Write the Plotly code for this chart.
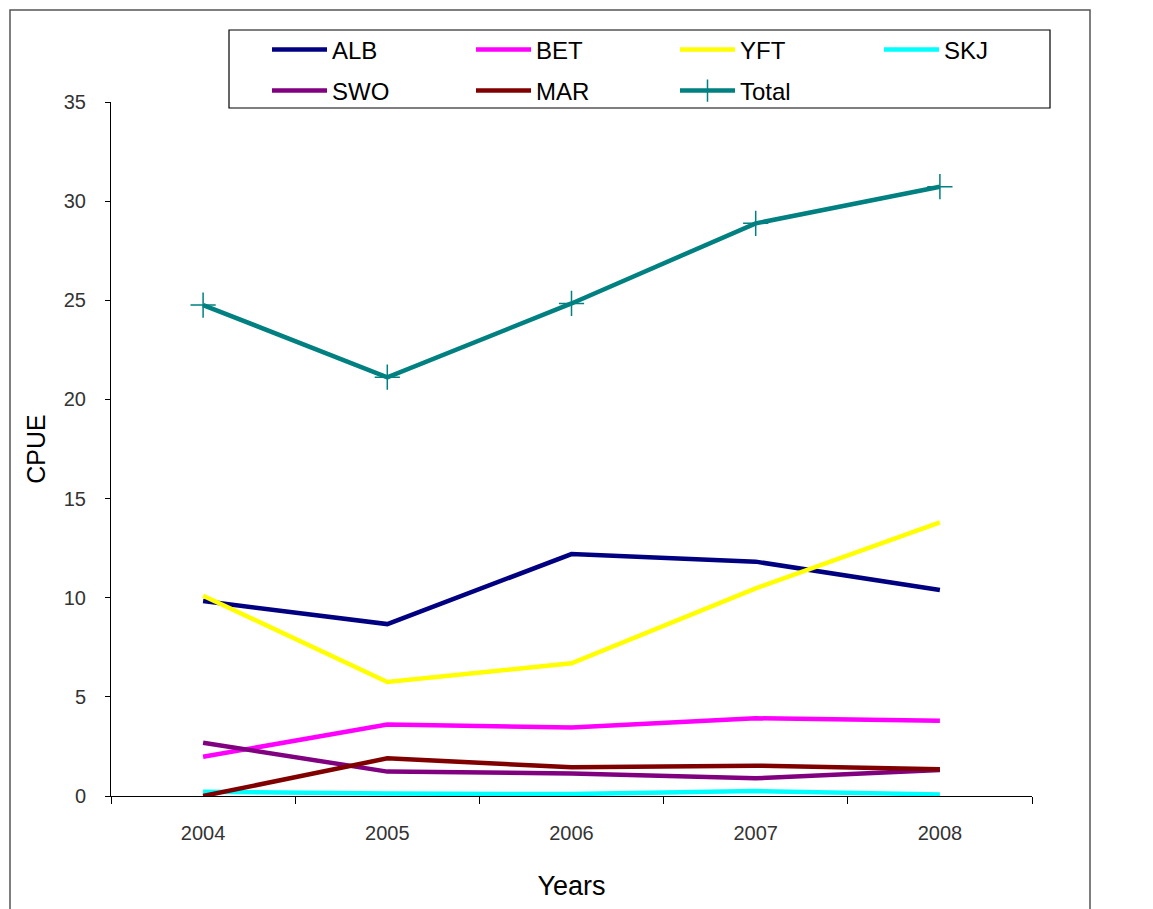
import plotly.graph_objects as go

years = ["2004", "2005", "2006", "2007", "2008"]
alb = [9.83, 8.67, 12.20, 11.82, 10.39]
bet = [1.98, 3.60, 3.45, 3.92, 3.80]
yft = [10.10, 5.75, 6.69, 10.47, 13.80]
skj = [0.22, 0.12, 0.10, 0.25, 0.08]
swo = [2.69, 1.23, 1.14, 0.89, 1.31]
mar = [0.00, 1.90, 1.45, 1.53, 1.35]
total = [24.76, 21.12, 24.84, 28.88, 30.73]

# (name, values, colour, legend row)
series = [
    ("ALB", alb, "#000080", "legend"),
    ("BET", bet, "#FF00FF", "legend"),
    ("YFT", yft, "#FFFF00", "legend"),
    ("SKJ", skj, "#00FFFF", "legend"),
    ("SWO", swo, "#800080", "legend2"),
    ("MAR", mar, "#800000", "legend2"),
]

# category slots centred at 0.5, 1.5, ... so ticks fall between years
xpos = [i + 0.5 for i in range(len(years))]

fig = go.Figure()
for name, vals, color, leg in series:
    fig.add_trace(go.Scatter(
        x=xpos, y=vals, name=name, mode="lines",
        line=dict(color=color, width=4.5), legend=leg,
    ))
fig.add_trace(go.Scatter(
    x=xpos, y=total, name="Total", mode="lines+markers", legend="legend2",
    line=dict(color="#008080", width=4.5),
    marker=dict(symbol="cross-thin", size=18, line=dict(color="#008080", width=1.5)),
))

font = "Liberation Sans, Arial, sans-serif"
L, R, T, B = 111, 1032, 102, 796
W, H = 1153, 909
pw, ph = R - L, B - T


def px(x):
    return (x - L) / pw


def py(y):
    return (B - y) / ph


legend_style = dict(
    orientation="h", xanchor="left", yanchor="middle",
    bgcolor="rgba(0,0,0,0)", borderwidth=0,
    font=dict(size=24, family=font, color="#000000"),
    entrywidth=134, entrywidthmode="pixels",
    itemwidth=55,
)

fig.update_layout(
    width=W, height=H,
    margin=dict(l=L, r=W - R, t=T, b=H - B),
    paper_bgcolor="white", plot_bgcolor="white",
    font=dict(family=font, color="#000000"),
    showlegend=True,
    legend=dict(x=px(267), y=py(50), **legend_style),
    legend2=dict(x=px(267), y=py(91), **legend_style),
    xaxis=dict(
        range=[0, 5], tickvals=xpos, ticktext=years,
        ticks="", showgrid=False, zeroline=False,
        showline=True, linecolor="#000000", linewidth=1,
        tickfont=dict(size=20, color="#333333"),
        ticklabelstandoff=19,
        minor=dict(tickvals=[0, 1, 2, 3, 4, 5], ticks="outside", ticklen=7,
                   tickcolor="#000000", showgrid=False),
        title=dict(text="Years", font=dict(size=27), standoff=33),
        fixedrange=True,
    ),
    yaxis=dict(
        range=[0, 35], tickvals=[0, 5, 10, 15, 20, 25, 30, 35],
        ticks="outside", ticklen=5, tickcolor="#000000",
        showgrid=False, zeroline=False,
        showline=True, linecolor="#000000", linewidth=1,
        tickfont=dict(size=20, color="#333333"),
        ticklabelstandoff=15,
        title=dict(text="CPUE", font=dict(size=25), standoff=11),
        fixedrange=True,
    ),
    shapes=[
        # outer chart frame
        dict(type="rect", xref="paper", yref="paper",
             x0=px(10), x1=px(1090), y0=py(920), y1=py(10),
             line=dict(color="#555555", width=1.5), fillcolor="rgba(0,0,0,0)",
             layer="below"),
        # legend frame
        dict(type="rect", xref="paper", yref="paper",
             x0=px(229), x1=px(1050), y0=py(108), y1=py(30),
             line=dict(color="#000000", width=1.2), fillcolor="white",
             layer="below"),
    ],
)

fig.write_html("out.html")
